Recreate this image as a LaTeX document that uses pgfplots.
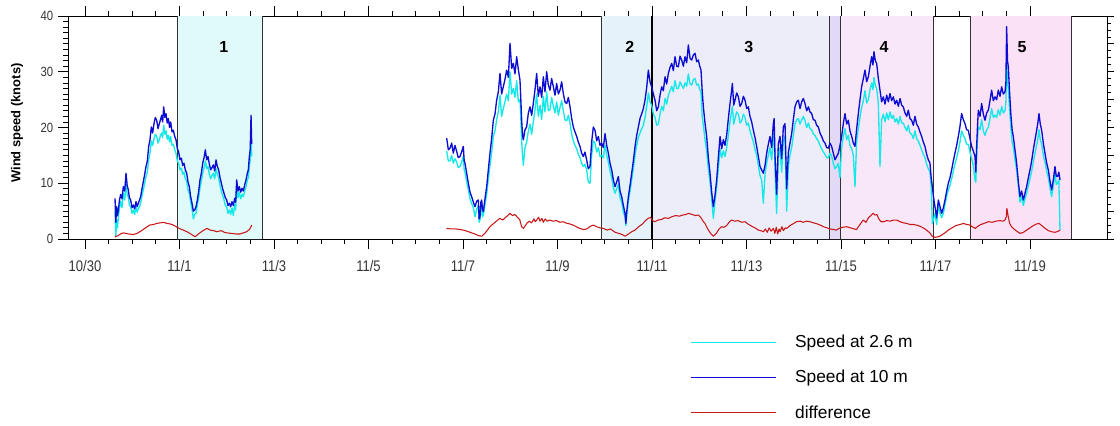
\documentclass[border=0pt]{standalone}
\usepackage{fontspec}
\setmainfont{Liberation Sans}
\newfontfamily\narrowsans[FakeStretch=0.85]{Liberation Sans}
\usepackage{pgfplots}
\usepackage{pgfplotstable}
\pgfplotsset{compat=1.18}

\definecolor{hiC}{RGB}{12,12,210}
\definecolor{loC}{RGB}{20,232,232}
\definecolor{dfC}{RGB}{200,25,25}
\definecolor{rA}{RGB}{224,250,250}
\definecolor{rB}{RGB}{230,242,250}
\definecolor{rC}{RGB}{237,237,250}
\definecolor{rCD}{RGB}{225,217,245}
\definecolor{rD}{RGB}{248,231,248}
\definecolor{rE}{RGB}{250,225,246}

% wind speed, first deployment (day 0 = 10/30)
\pgfplotstableread{
t hi lo
0.635 7.3 5.0
0.652 3.0 0.4
0.670 5.8 3.5
0.688 4.2 2.0
0.706 5.2 4.0
0.730 7.0 5.5
0.755 8.0 6.8
0.783 7.2 5.6
0.811 9.4 8.2
0.840 8.6 7.0
0.868 11.8 10.0
0.892 9.6 8.0
0.917 8.8 7.5
0.940 7.4 6.0
0.966 7.0 5.8
0.995 5.6 4.6
1.023 6.1 5.2
1.050 5.4 4.4
1.079 6.7 5.8
1.104 5.8 4.8
1.129 6.4 5.4
1.153 7.0 5.8
1.178 7.6 6.4
1.206 9.0 7.8
1.235 10.3 8.8
1.263 11.6 10.0
1.291 13.0 11.2
1.319 14.0 12.0
1.347 16.6 14.2
1.375 17.8 15.4
1.404 20.1 17.6
1.432 19.0 16.8
1.460 20.7 18.0
1.488 21.8 18.8
1.517 21.3 18.4
1.545 19.8 17.2
1.573 20.7 17.8
1.598 21.4 18.6
1.623 22.2 19.0
1.644 21.0 18.2
1.665 23.7 20.4
1.690 21.8 18.8
1.714 22.5 19.4
1.740 20.8 17.9
1.764 21.6 18.6
1.789 20.0 17.4
1.813 21.0 18.4
1.842 19.2 16.8
1.870 19.5 17.0
1.898 18.4 16.0
1.926 17.8 15.4
1.954 16.2 14.0
1.982 15.6 13.6
2.010 14.2 12.4
2.039 14.5 12.7
2.067 13.2 11.6
2.095 13.6 12.0
2.123 12.4 10.8
2.152 11.8 10.4
2.180 10.2 8.8
2.208 9.4 8.2
2.236 7.6 6.6
2.265 6.4 5.4
2.293 5.0 3.6
2.321 5.2 4.4
2.350 5.8 4.6
2.378 7.0 6.2
2.406 8.6 7.4
2.434 10.6 9.2
2.462 11.8 10.4
2.491 13.6 11.8
2.519 14.6 12.8
2.547 16.0 14.0
2.575 14.2 12.6
2.603 14.8 13.0
2.632 13.4 11.6
2.660 12.4 10.8
2.688 12.8 11.4
2.716 13.3 11.8
2.745 12.2 10.8
2.773 14.2 12.6
2.801 13.0 11.6
2.829 12.4 11.0
2.857 11.0 9.6
2.886 10.0 8.6
2.914 9.0 7.8
2.942 8.2 7.0
2.970 7.4 6.0
2.998 7.0 5.8
3.027 6.0 4.6
3.055 6.4 5.2
3.083 5.8 4.4
3.111 6.7 5.6
3.139 6.0 4.2
3.168 7.3 6.2
3.189 6.6 5.2
3.210 10.6 9.4
3.238 8.6 7.4
3.266 9.4 8.4
3.295 8.4 7.2
3.323 9.1 8.0
3.351 8.6 7.6
3.379 9.7 8.6
3.408 10.6 9.4
3.436 11.8 10.6
3.457 12.4 11.0
3.478 14.8 13.0
3.496 16.0 14.2
3.514 22.2 18.9
3.528 17.0 14.8
}\windA

\pgfplotstableread{
t df
0.635 0.4
0.70 0.6
0.75 0.9
0.81 1.1
0.87 1.0
0.93 0.9
1.02 0.8
1.10 1.0
1.20 1.5
1.28 2.0
1.37 2.5
1.45 2.6
1.52 2.8
1.60 2.9
1.66 3.0
1.73 2.8
1.80 2.7
1.87 2.5
1.95 2.1
2.02 1.8
2.08 1.6
2.16 1.3
2.24 0.9
2.33 0.4
2.40 0.9
2.48 1.4
2.58 1.9
2.65 1.6
2.72 1.5
2.79 1.3
2.88 1.5
2.95 1.2
3.00 1.1
3.10 1.0
3.20 0.9
3.28 0.9
3.35 1.1
3.42 1.3
3.48 1.7
3.53 2.5
}\diffA

% wind speed, second deployment
\pgfplotstableread{
t hi lo
7.654 18.1 15.8
7.690 16.0 14.0
7.725 16.3 14.0
7.760 17.2 15.0
7.795 15.4 13.6
7.830 16.8 14.4
7.866 15.7 13.8
7.900 14.6 12.8
7.936 14.8 13.0
7.970 15.6 13.8
8.007 16.6 14.8
8.025 14.0 12.4
8.042 13.6 12.0
8.078 11.8 10.2
8.113 10.0 8.8
8.148 8.4 7.2
8.183 7.6 6.4
8.220 6.6 5.6
8.254 5.8 4.0
8.290 6.8 5.4
8.324 7.0 6.0
8.342 3.6 3.0
8.360 4.0 3.4
8.378 6.6 5.8
8.395 7.0 6.0
8.412 5.4 4.0
8.430 4.9 4.2
8.465 7.2 6.2
8.501 9.4 8.0
8.536 12.4 10.8
8.571 15.4 13.2
8.606 18.0 15.4
8.642 21.3 18.4
8.677 22.4 19.4
8.712 24.9 21.4
8.748 26.4 22.8
8.783 29.7 25.8
8.818 26.0 22.0
8.853 27.3 23.4
8.888 28.6 24.6
8.924 30.3 26.0
8.960 29.0 24.8
8.995 35.1 30.0
9.030 30.6 26.0
9.065 31.5 27.0
9.100 29.6 25.4
9.136 32.7 28.4
9.171 30.4 24.6
9.206 28.5 25.0
9.224 25.0 21.6
9.242 21.3 17.6
9.260 18.6 15.0
9.277 17.8 13.2
9.312 19.6 16.4
9.347 20.1 17.4
9.383 22.6 19.4
9.418 23.7 20.6
9.453 22.2 18.8
9.488 24.3 21.0
9.524 26.8 23.2
9.559 29.7 26.0
9.594 25.6 22.0
9.630 27.3 24.0
9.665 25.4 21.4
9.700 29.1 25.6
9.735 26.4 22.8
9.771 30.0 26.4
9.806 27.6 23.0
9.841 26.7 23.2
9.876 28.8 25.4
9.912 27.3 23.8
9.947 25.8 22.6
9.982 27.9 24.6
10.018 26.0 22.2
10.053 26.7 23.6
10.088 28.2 24.8
10.123 26.1 23.0
10.158 24.6 21.4
10.194 24.3 21.2
10.230 25.4 22.2
10.265 23.7 20.8
10.300 21.6 18.8
10.335 20.1 17.6
10.370 19.2 16.8
10.406 18.4 16.2
10.441 17.4 15.2
10.476 16.6 14.6
10.511 15.4 13.6
10.547 14.8 13.0
10.582 15.6 13.4
10.617 14.2 12.4
10.652 12.6 10.2
10.688 13.0 10.0
10.723 17.4 15.0
10.758 20.1 17.6
10.794 19.5 17.2
10.830 17.6 15.6
10.865 18.4 16.4
10.900 16.8 14.8
10.935 17.2 15.0
10.970 16.4 14.6
11.006 18.9 16.8
11.041 16.8 15.0
11.076 15.4 13.8
11.112 13.6 12.2
11.147 12.4 11.0
11.182 10.6 9.2
11.217 9.4 8.2
11.252 10.2 9.0
11.288 11.2 9.8
11.323 8.6 7.4
11.358 7.6 6.6
11.394 6.0 4.8
11.429 4.6 4.0
11.447 2.8 2.4
11.464 4.8 4.2
11.500 7.6 6.8
11.535 9.6 8.6
11.570 11.8 10.6
11.605 14.0 12.6
11.641 16.6 15.0
11.676 18.6 16.8
11.711 20.1 18.2
11.746 21.6 19.0
11.782 22.5 19.8
11.817 23.4 20.4
11.852 24.9 21.8
11.888 27.2 23.8
11.923 30.3 26.2
11.958 28.2 24.6
11.993 27.3 24.0
12.029 26.0 22.4
12.064 24.9 21.8
12.099 23.0 20.4
12.134 23.7 20.6
12.170 25.8 22.4
12.205 27.3 23.8
12.240 26.6 23.0
12.276 29.1 25.2
12.311 27.8 24.2
12.346 29.7 25.8
12.382 30.8 26.6
12.417 31.5 27.4
12.452 30.2 26.4
12.487 32.7 28.4
12.523 31.0 27.0
12.558 30.9 27.0
12.593 32.8 28.2
12.628 32.1 27.6
12.664 31.0 27.0
12.699 32.7 28.0
12.734 31.6 27.4
12.769 34.8 29.6
12.805 32.4 27.8
12.840 32.1 27.6
12.875 33.0 28.6
12.911 33.3 28.8
12.946 31.8 27.6
12.981 32.1 27.8
13.010 31.0 26.8
13.037 30.3 26.4
13.062 26.6 22.0
13.087 23.7 20.4
13.122 20.8 17.8
13.157 18.4 15.8
13.192 14.6 12.6
13.228 11.8 10.2
13.263 8.4 7.2
13.298 5.8 3.7
13.333 7.8 6.8
13.369 10.6 9.4
13.404 14.6 12.6
13.440 18.4 16.2
13.475 16.2 14.6
13.510 17.8 15.8
13.545 16.8 14.8
13.581 18.7 16.4
13.616 21.6 18.6
13.651 24.3 21.0
13.676 26.0 22.4
13.701 27.9 23.8
13.730 24.0 20.6
13.757 24.9 21.6
13.792 26.2 22.8
13.828 25.5 22.4
13.863 23.8 20.8
13.898 24.3 21.2
13.934 25.6 22.4
13.969 24.9 21.8
14.004 23.4 20.4
14.039 23.7 20.8
14.074 22.0 19.4
14.110 21.0 18.4
14.145 19.5 17.4
14.180 18.2 16.0
14.215 16.6 15.0
14.251 14.8 13.2
14.286 13.0 11.4
14.321 12.4 10.6
14.356 11.8 6.4
14.392 13.2 11.6
14.427 15.4 13.6
14.462 17.0 15.0
14.497 18.4 16.4
14.533 16.4 14.2
14.568 20.7 18.4
14.585 21.6 19.0
14.603 15.0 12.4
14.638 8.0 4.6
14.673 17.0 14.6
14.709 18.4 16.4
14.744 14.4 12.0
14.780 20.1 17.6
14.815 20.7 18.4
14.850 9.0 5.0
14.885 15.4 13.0
14.920 17.2 15.0
14.956 18.9 16.4
14.991 21.4 18.6
15.026 23.7 20.6
15.062 24.6 21.4
15.097 24.9 21.6
15.132 23.4 20.6
15.168 24.6 21.4
15.203 25.2 22.0
15.238 24.3 21.2
15.274 23.0 20.0
15.309 23.7 20.8
15.344 22.8 19.8
15.379 22.5 19.6
15.415 21.4 18.8
15.450 21.3 18.6
15.485 20.4 18.0
15.520 20.1 17.6
15.556 19.0 16.8
15.591 18.4 16.2
15.626 17.6 15.6
15.661 17.2 15.2
15.697 16.4 14.6
15.732 16.3 14.6
15.767 17.2 15.4
15.802 16.6 14.8
15.838 15.4 13.6
15.873 14.2 12.6
15.908 14.8 13.0
15.944 15.4 13.6
15.979 16.8 11.0
16.014 18.4 16.4
16.050 20.8 18.4
16.085 22.5 19.8
16.120 20.6 17.8
16.155 21.3 18.6
16.190 19.4 16.8
16.226 18.4 16.2
16.261 17.2 15.0
16.296 16.6 9.4
16.332 19.8 17.6
16.367 22.5 19.8
16.402 25.0 21.8
16.437 27.3 23.6
16.473 28.8 24.8
16.508 30.3 26.6
16.543 28.2 24.4
16.579 29.1 25.0
16.614 31.0 26.8
16.649 32.7 28.0
16.676 31.2 26.8
16.698 33.6 29.0
16.726 32.0 27.6
16.755 31.5 27.0
16.790 28.8 24.4
16.825 26.7 13.0
16.860 24.6 21.4
16.896 25.5 22.4
16.931 24.2 21.0
16.967 25.8 22.6
17.002 24.6 21.4
17.037 26.1 22.8
17.072 24.8 21.6
17.108 25.5 22.2
17.143 24.2 21.0
17.178 24.9 21.6
17.214 23.8 20.6
17.249 25.2 22.0
17.284 24.0 20.8
17.319 23.7 20.8
17.355 22.6 20.0
17.390 22.0 19.4
17.425 23.1 20.4
17.460 21.6 19.0
17.495 21.3 18.8
17.531 20.4 18.0
17.566 22.0 19.4
17.601 20.6 18.0
17.636 20.1 17.6
17.672 19.2 16.8
17.707 18.4 16.0
17.742 17.4 15.2
17.777 16.6 14.6
17.813 15.2 13.4
17.848 14.2 12.6
17.883 13.6 12.0
17.908 11.0 9.6
17.933 9.4 2.8
17.960 7.4 3.6
17.989 5.8 4.6
18.025 3.8 2.6
18.060 7.0 6.2
18.095 5.8 4.6
18.130 4.6 3.8
18.166 5.6 4.6
18.201 7.0 6.2
18.236 8.6 7.6
18.271 10.0 8.8
18.307 11.0 9.6
18.342 12.4 10.8
18.377 14.0 12.2
18.412 15.4 13.4
18.448 16.8 14.6
18.483 18.4 15.8
18.518 20.2 17.4
18.553 22.5 19.4
18.589 21.4 18.6
18.624 20.7 18.0
18.659 19.6 17.0
18.694 19.5 17.0
18.730 18.0 15.6
18.765 16.6 14.4
18.800 15.8 13.2
18.836 14.8 10.6
18.853 12.0 10.2
18.871 16.6 14.6
18.888 20.0 17.6
18.906 23.1 20.2
18.942 22.0 19.6
18.977 24.3 21.4
19.012 22.4 19.4
19.047 21.3 18.6
19.083 22.6 19.6
19.118 23.1 20.0
19.153 24.8 21.6
19.188 26.7 23.4
19.224 24.8 21.8
19.259 25.5 22.2
19.294 25.0 21.8
19.329 26.7 23.2
19.365 25.6 22.2
19.400 27.3 23.8
19.435 26.0 22.6
19.471 26.4 23.0
19.490 28.0 24.6
19.506 38.1 32.0
19.524 32.0 28.0
19.541 30.9 27.0
19.570 26.0 23.0
19.598 22.0 19.6
19.622 19.6 17.4
19.647 18.4 16.4
19.682 16.0 14.2
19.717 13.6 12.4
19.752 10.4 9.6
19.788 7.6 6.6
19.823 8.6 7.6
19.859 7.0 6.0
19.894 8.2 7.2
19.929 9.4 8.2
19.965 11.0 9.6
20.000 12.4 10.8
20.035 14.0 12.2
20.070 16.0 13.8
20.106 17.8 15.4
20.141 19.5 16.8
20.166 20.8 18.0
20.190 22.5 19.6
20.218 20.6 17.8
20.247 19.5 17.0
20.282 17.2 15.0
20.317 15.4 13.8
20.353 13.6 12.2
20.388 12.4 11.0
20.423 10.4 9.2
20.458 8.8 7.6
20.494 10.6 9.4
20.529 13.0 11.8
20.557 11.2 9.8
20.585 11.2 10.0
20.610 12.0 10.6
20.635 10.6 1.6
}\windB

\pgfplotstableread{
t df
7.65 1.9
7.75 1.8
7.85 1.8
7.95 1.7
8.05 1.5
8.15 1.2
8.25 0.9
8.33 0.6
8.40 0.5
8.48 1.2
8.57 2.2
8.65 2.8
8.72 3.3
8.78 3.7
8.84 3.4
8.90 3.9
8.95 4.2
8.99 4.6
9.05 4.2
9.10 4.4
9.14 4.0
9.20 3.5
9.24 2.2
9.28 1.9
9.35 2.8
9.40 3.2
9.45 2.9
9.50 3.6
9.53 3.1
9.56 3.4
9.60 3.9
9.63 3.2
9.67 3.7
9.70 3.0
9.74 3.6
9.78 3.2
9.84 3.4
9.90 3.2
9.98 3.3
10.05 3.0
10.12 3.1
10.20 2.8
10.26 2.7
10.33 2.5
10.40 2.2
10.47 1.9
10.55 1.7
10.62 1.8
10.70 2.3
10.76 2.5
10.83 2.2
10.90 2.0
10.97 1.9
11.05 1.6
11.12 1.8
11.22 1.2
11.30 1.0
11.37 0.8
11.43 0.5
11.50 0.9
11.57 1.3
11.64 1.6
11.72 2.2
11.80 2.7
11.86 3.3
11.92 3.7
11.97 3.9
12.01 3.3
12.06 3.1
12.13 3.4
12.20 3.5
12.27 3.8
12.35 3.7
12.42 4.0
12.50 4.2
12.58 4.1
12.65 4.3
12.72 4.4
12.77 4.6
12.85 4.4
12.92 4.2
12.98 4.3
13.03 3.9
13.08 3.2
13.12 2.8
13.18 1.8
13.24 1.0
13.30 0.5
13.36 1.0
13.42 1.8
13.47 2.2
13.52 2.1
13.58 2.4
13.63 3.0
13.68 3.4
13.75 3.2
13.82 3.3
13.90 3.0
13.97 3.1
14.03 2.7
14.07 2.5
14.13 2.2
14.18 2.0
14.25 1.6
14.30 1.5
14.36 1.3
14.40 1.8
14.44 1.2
14.48 2.0
14.52 1.4
14.57 1.9
14.60 1.0
14.63 2.1
14.66 0.9
14.69 1.8
14.71 1.3
14.75 2.2
14.78 1.5
14.82 2.0
14.85 1.9
14.92 2.4
15.00 2.8
15.06 3.1
15.14 3.2
15.20 3.0
15.27 3.2
15.34 3.1
15.42 2.9
15.50 2.7
15.56 2.5
15.63 2.2
15.70 2.0
15.77 1.8
15.84 1.7
15.90 1.6
15.96 1.9
16.03 2.1
16.12 2.2
16.20 2.0
16.28 1.8
16.33 1.7
16.40 2.6
16.47 3.4
16.53 3.0
16.58 3.8
16.63 4.2
16.68 4.6
16.72 4.3
16.76 4.4
16.80 3.6
16.85 3.1
16.90 3.1
16.97 3.3
17.04 3.2
17.11 3.4
17.18 3.4
17.25 3.1
17.32 2.9
17.39 2.8
17.46 2.6
17.53 2.6
17.60 2.5
17.67 2.3
17.74 2.0
17.81 1.6
17.88 1.1
17.93 0.5
17.99 0.3
18.06 0.4
18.13 0.7
18.20 1.1
18.27 1.6
18.35 2.0
18.43 2.4
18.52 2.6
18.59 2.8
18.66 2.6
18.73 2.5
18.78 2.2
18.84 1.9
18.90 2.3
18.96 2.6
19.03 2.8
19.12 3.1
19.20 3.0
19.28 3.2
19.36 3.3
19.43 3.2
19.47 3.4
19.50 4.0
19.51 5.5
19.54 4.0
19.57 2.8
19.61 2.2
19.66 1.8
19.72 1.4
19.79 1.0
19.86 1.2
19.93 1.6
20.00 2.0
20.07 2.4
20.14 2.7
20.19 2.8
20.25 2.4
20.32 1.9
20.39 1.5
20.46 1.3
20.53 1.2
20.60 1.4
20.64 1.6
}\diffB

\begin{document}
\begin{tikzpicture}
\useasboundingbox (0,0) rectangle (840pt,318.75pt);
\begin{axis}[
  at={(51pt,139.5pt)}, anchor=south west,
  scale only axis, width=779.25pt, height=167.25pt,
  xmin=-0.36, xmax=21.63, ymin=0, ymax=40,
  xtick={0,2,...,20},
  xticklabels={10/30,11/1,11/3,11/5,11/7,11/9,11/11,11/13,11/15,11/17,11/19},
  minor x tick num=3,
  ytick={0,10,...,40}, minor y tick num=9,
  ytick pos=left,
  tick align=outside,
  major tick length=7.5pt, minor tick length=3.5pt,
  axis line style={black, line width=0.75pt},
  every tick/.style={black, line width=0.6pt},
  ticklabel style={text=black!80},
  xticklabel style={font=\narrowsans\fontsize{11.5}{13}\selectfont, yshift=-5pt},
  yticklabel style={font=\narrowsans\fontsize{10}{12}\selectfont},
  /pgf/number format/assume math mode=true,
  ylabel={Wind speed (knots)},
  ylabel style={at={(axis description cs:-0.049,0.52)}, anchor=center,
    font=\bfseries\fontsize{9.7}{11}\selectfont},
  legend style={at={(0.5987,-0.418)}, anchor=north west, draw=none, fill=none,
    inner sep=0pt, row sep=11.5pt, font=\fontsize{13}{15}\selectfont,
    nodes={inner sep=2pt}},
  legend cell align=left,
  legend image code/.code={\draw[#1, line width=0.6pt] (0pt,0pt) -- (64pt,0pt);},
  /tikz/every odd column/.append style={column sep=12pt},
  line join=round,
]
% shaded periods
\addplot[draw=none, fill=rA, forget plot] coordinates {(1.95,0) (1.95,40) (3.75,40) (3.75,0)} \closedcycle;
\addplot[draw=none, fill=rB, forget plot] coordinates {(10.92,0) (10.92,40) (12.0,40) (12.0,0)} \closedcycle;
\addplot[draw=none, fill=rC, forget plot] coordinates {(12.0,0) (12.0,40) (15.75,40) (15.75,0)} \closedcycle;
\addplot[draw=none, fill=rCD, forget plot] coordinates {(15.75,0) (15.75,40) (15.98,40) (15.98,0)} \closedcycle;
\addplot[draw=none, fill=rD, forget plot] coordinates {(15.98,0) (15.98,40) (17.95,40) (17.95,0)} \closedcycle;
\addplot[draw=none, fill=rE, forget plot] coordinates {(18.73,0) (18.73,40) (20.87,40) (20.87,0)} \closedcycle;
% period borders
\addplot[black!80, line width=0.6pt, forget plot] coordinates {(1.95,0) (1.95,40)};
\addplot[black!80, line width=0.6pt, forget plot] coordinates {(3.75,0) (3.75,40)};
\addplot[black!80, line width=0.6pt, forget plot] coordinates {(10.92,0) (10.92,40)};
\addplot[black, line width=1.3pt, forget plot] coordinates {(12.0,0) (12.0,40)};
\addplot[black!80, line width=0.6pt, forget plot] coordinates {(15.75,0) (15.75,40)};
\addplot[black!80, line width=0.6pt, forget plot] coordinates {(15.98,0) (15.98,40)};
\addplot[black!80, line width=0.6pt, forget plot] coordinates {(17.95,0) (17.95,40)};
\addplot[black!80, line width=0.6pt, forget plot] coordinates {(18.73,0) (18.73,40)};
\addplot[black!80, line width=0.6pt, forget plot] coordinates {(20.87,0) (20.87,40)};
% first deployment
\addplot[loC, line width=1pt, forget plot] table[x=t, y=lo] {\windA};
\addplot[hiC, line width=1pt, forget plot] table[x=t, y=hi] {\windA};
\addplot[dfC, line width=0.8pt, forget plot] table[x=t, y=df] {\diffA};
% second deployment
\addplot[loC, line width=1pt] table[x=t, y=lo] {\windB};
\addlegendentry{Speed at 2.6 m}
\addplot[hiC, line width=1pt] table[x=t, y=hi] {\windB};
\addlegendentry{Speed at 10 m}
\addplot[dfC, line width=0.8pt] table[x=t, y=df] {\diffB};
\addlegendentry{difference}
% period numbers
\node[font=\bfseries\fontsize{12}{14}\selectfont] at (axis cs:2.94,34.4) {1};
\node[font=\bfseries\fontsize{12}{14}\selectfont] at (axis cs:11.53,34.4) {2};
\node[font=\bfseries\fontsize{12}{14}\selectfont] at (axis cs:14.05,34.4) {3};
\node[font=\bfseries\fontsize{12}{14}\selectfont] at (axis cs:16.91,34.4) {4};
\node[font=\bfseries\fontsize{12}{14}\selectfont] at (axis cs:19.83,34.4) {5};
\end{axis}
% right-hand scale
\begin{axis}[
  at={(51pt,139.5pt)}, anchor=south west,
  scale only axis, width=779.25pt, height=167.25pt,
  xmin=-0.36, xmax=21.63, ymin=0, ymax=40,
  hide x axis, axis y line*=right,
  ytick={0,5,...,40}, minor y tick num=3, yticklabels={},
  tick align=outside,
  major tick length=5pt, minor tick length=3pt,
  axis line style={black, line width=0.75pt},
  every tick/.style={black, line width=0.6pt},
]
\end{axis}
\end{tikzpicture}
\end{document}
